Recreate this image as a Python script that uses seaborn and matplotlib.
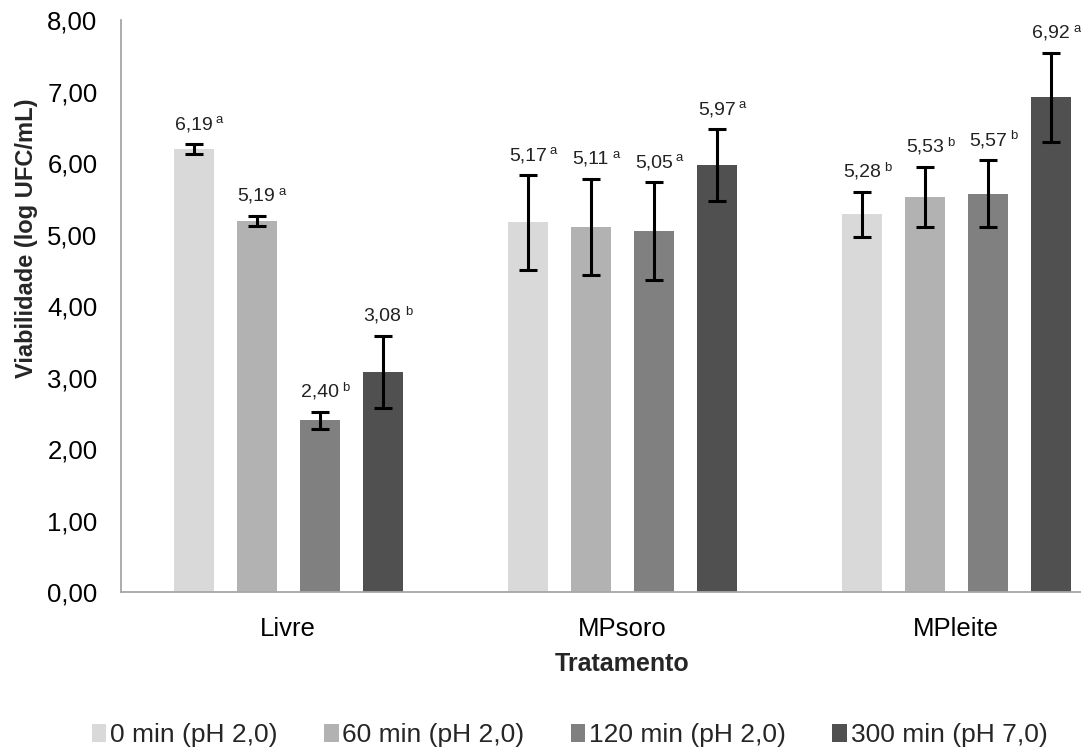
import matplotlib
matplotlib.use("Agg")
import matplotlib.pyplot as plt
import seaborn as sns
import pandas as pd
from matplotlib.ticker import FuncFormatter
from matplotlib.patches import Patch

sns.set_theme(style="white")
plt.rcParams['font.family'] = ['Liberation Sans', 'DejaVu Sans']

categories = ["Livre", "MPsoro", "MPleite"]
series = ["0 min (pH 2,0)", "60 min (pH 2,0)", "120 min (pH 2,0)", "300 min (pH 7,0)"]
values = {
    "0 min (pH 2,0)":   [6.19, 5.17, 5.28],
    "60 min (pH 2,0)":  [5.19, 5.11, 5.53],
    "120 min (pH 2,0)": [2.40, 5.05, 5.57],
    "300 min (pH 7,0)": [3.08, 5.97, 6.92],
}
errors = {
    "0 min (pH 2,0)":   [0.07, 0.66, 0.32],
    "60 min (pH 2,0)":  [0.07, 0.67, 0.42],
    "120 min (pH 2,0)": [0.12, 0.68, 0.47],
    "300 min (pH 7,0)": [0.50, 0.50, 0.62],
}
letters = {
    "0 min (pH 2,0)":   ["a", "a", "b"],
    "60 min (pH 2,0)":  ["a", "a", "b"],
    "120 min (pH 2,0)": ["b", "a", "b"],
    "300 min (pH 7,0)": ["b", "a", "a"],
}
colors = ["#d9d9d9", "#b2b2b2", "#808080", "#505050"]
yticks = [0, 1, 2, 3, 4, 5, 6, 7, 8]

rows = []
for s in series:
    for c, v in zip(categories, values[s]):
        rows.append({"Tratamento": c, "Serie": s, "Valor": v})
df = pd.DataFrame(rows)

fig = plt.figure(figsize=(10.81, 7.48), dpi=100)
ax = fig.add_axes([121/1081, 1 - 592/748, 1 - 121/1081, (592 - 20)/748])

sns.barplot(data=df, x="Tratamento", y="Valor", hue="Serie", order=categories,
            hue_order=series, palette=colors, errorbar=None, width=0.754,
            gap=0.365, ax=ax, legend=False, edgecolor="none", linewidth=0)

for s, cont in zip(series, ax.containers):
    for bar, err, let in zip(cont, errors[s], letters[s]):
        cx = bar.get_x() + bar.get_width() / 2
        h = bar.get_height()
        ax.errorbar(cx, h, yerr=err, fmt="none", ecolor="black",
                    elinewidth=2.2, capsize=6.5, capthick=2.2, zorder=5)
        top = h + err
        lbl = f"{h:.2f}".replace(".", ",")
        ax.annotate(lbl, (cx, top), xytext=(0, 8), textcoords="offset points",
                    ha="center", va="bottom", fontsize=14, color="#222222")
        ax.annotate(let, (cx, top), xytext=(16, 13), textcoords="offset points",
                    ha="left", va="bottom", fontsize=9.5, color="#222222")

ax.set_ylim(0, 8)
ax.set_xlim(-0.5, 2.373)
ax.set_yticks(yticks)
ax.yaxis.set_major_formatter(FuncFormatter(lambda v, p: f"{v:.2f}".replace(".", ",")))
ax.tick_params(axis="y", length=0, pad=17, labelsize=18.5, colors="black")
ax.tick_params(axis="x", length=0, pad=18, labelsize=18.5, colors="black")

for sp in ["top", "right"]:
    ax.spines[sp].set_visible(False)
for sp in ["left", "bottom"]:
    ax.spines[sp].set_color("#a6a6a6")
    ax.spines[sp].set_linewidth(1.3)

ax.set_xlabel("Tratamento", fontsize=18, fontweight="bold")
ax.set_ylabel("Viabilidade (log UFC/mL)", fontsize=17, fontweight="bold")
ax.xaxis.set_label_coords(0.5 + (622 - (121 + 960/2)) / 960, -0.105)
ax.yaxis.set_label_coords((38 - 121) / 960, (592 - 238) / 572)

handles = [Patch(facecolor=c, edgecolor="none") for c in colors]
fig.legend(handles, series, loc="center", bbox_to_anchor=(0.527, 1 - 735/748),
           ncol=4, frameon=False, fontsize=19, handlelength=0.55, handleheight=0.7,
           handletextpad=0.15, columnspacing=1.75)

fig.savefig("out.png", dpi=100)
